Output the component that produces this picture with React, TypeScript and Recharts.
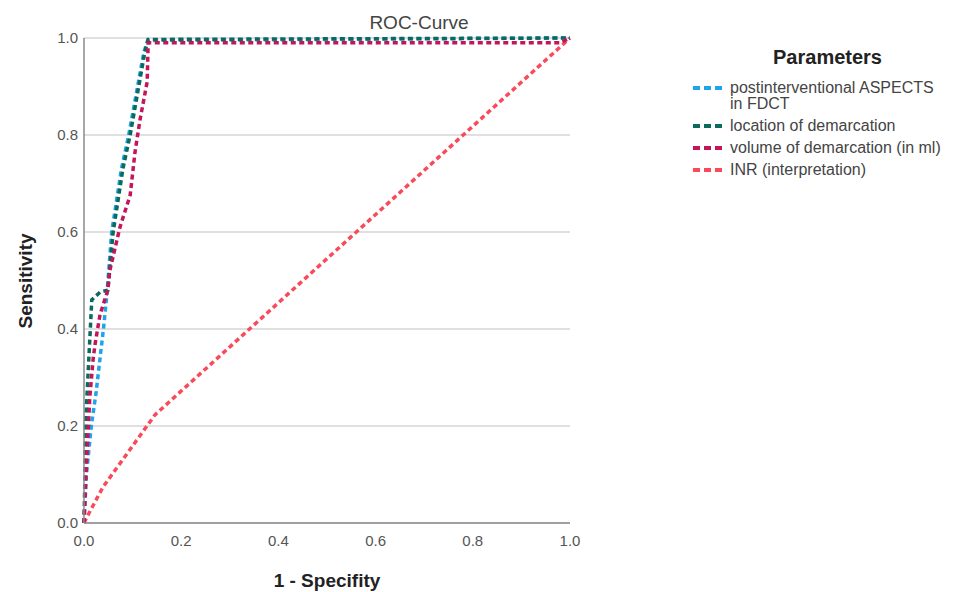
import React from 'react';
import { LineChart, Line, XAxis, YAxis, CartesianGrid } from 'recharts';

// ROC points: x = 1 - specificity, y = sensitivity
const aspectsFpr = [0, 0.005, 0.015, 0.025, 0.033, 0.04, 0.047, 0.057, 0.077, 0.092, 0.123, 0.131, 1];
const aspectsTpr = [0, 0.1, 0.2, 0.27, 0.34, 0.4, 0.47, 0.6, 0.73, 0.8, 0.97, 0.995, 1];

const locationFpr = [0, 0.002, 0.003, 0.008, 0.012, 0.016, 0.033, 0.049, 0.06, 0.08, 0.095, 0.125, 0.132, 1];
const locationTpr = [0, 0.1, 0.2, 0.3, 0.38, 0.46, 0.476, 0.48, 0.6, 0.73, 0.8, 0.97, 0.997, 1];

const volumeFpr = [0, 0.004, 0.008, 0.012, 0.019, 0.023, 0.033, 0.049, 0.053, 0.074, 0.095, 0.105, 0.115, 0.13, 0.132, 0.98, 1];
const volumeTpr = [0, 0.1, 0.18, 0.26, 0.34, 0.37, 0.43, 0.48, 0.52, 0.61, 0.676, 0.765, 0.83, 0.91, 0.99, 0.99, 1];

const inrFpr = [0, 0.008, 0.039, 0.146, 1];
const inrTpr = [0, 0.016, 0.074, 0.223, 1];

const ticks = [0, 0.2, 0.4, 0.6, 0.8, 1];

const toPoints = (xs: number[], ys: number[]) => xs.map((x, i) => ({ x, y: ys[i] }));

const series = [
  { name: 'INR (interpretation)', color: '#fa4a5a', data: toPoints(inrFpr, inrTpr) },
  { name: 'postinterventional ASPECTS in FDCT', color: '#1fa3ec', data: toPoints(aspectsFpr, aspectsTpr) },
  { name: 'location of demarcation', color: '#0b6a5c', data: toPoints(locationFpr, locationTpr) },
  { name: 'volume of demarcation (in ml)', color: '#c4145a', data: toPoints(volumeFpr, volumeTpr) },
];

const legendOrder = [1, 2, 3, 0];

const FONT = '"Liberation Sans", Arial, sans-serif';

const LegendBox = () => (
  <div style={{ position: 'absolute', left: 692, top: 46, width: 265, fontFamily: FONT }}>
    <div style={{ fontWeight: 'bold', fontSize: 20, lineHeight: '22px', color: '#222', textAlign: 'center', marginBottom: 12, paddingLeft: 6 }}>
      Parameters
    </div>
    {legendOrder.map(i => {
      const s = series[i];
      return (
        <div key={s.name} style={{ display: 'flex', alignItems: 'flex-start', marginBottom: 6 }}>
          <svg width={32} height={16} style={{ flexShrink: 0 }}>
            <line x1={1} y1={8} x2={31} y2={8} stroke={s.color} strokeWidth={4} strokeDasharray="7 4" />
          </svg>
          <span style={{ fontSize: 16, color: '#444', lineHeight: '16px', marginLeft: 6, width: 228, whiteSpace: 'nowrap' }}>
            {s.name === 'postinterventional ASPECTS in FDCT' ? (
              <>postinterventional ASPECTS<br />in FDCT</>
            ) : s.name}
          </span>
        </div>
      );
    })}
  </div>
);

export default function App() {
  return (
    <div style={{ position: 'absolute', left: 0, top: 0, width: 957, height: 592, background: '#fff', fontFamily: FONT }}>
      <LineChart width={957} height={592} margin={{ top: 38, right: 387, left: 0, bottom: 0 }}>
        <CartesianGrid vertical={false} stroke="#d6d6d6" strokeWidth={1.5} />
        <XAxis
          type="number"
          dataKey="x"
          domain={[0, 1]}
          ticks={ticks}
          tickFormatter={(v: number) => v.toFixed(1)}
          height={69}
          tickLine={false}
          tickSize={0}
          tickMargin={12}
          axisLine={{ stroke: '#8a8a8a', strokeWidth: 1.5 }}
          tick={{ fill: '#555', fontSize: 15, fontFamily: FONT }}
          allowDuplicatedCategory={false}
          label={{ value: '1 - Specifity', position: 'insideBottom', offset: 5, fill: '#222', fontSize: 19, fontWeight: 'bold', fontFamily: FONT }}
        />
        <YAxis
          type="number"
          dataKey="y"
          domain={[0, 1]}
          ticks={ticks}
          tickFormatter={(v: number) => v.toFixed(1)}
          width={84}
          tickLine={false}
          tickSize={0}
          tickMargin={6}
          axisLine={{ stroke: '#8a8a8a', strokeWidth: 1.5 }}
          tick={{ fill: '#555', fontSize: 15, fontFamily: FONT }}
          label={{
            content: () => (
              <text x={27} y={281} transform="rotate(-90 27 281)" textAnchor="middle" dominantBaseline="middle"
                fill="#222" fontSize={19} fontWeight="bold" fontFamily={FONT}>
                Sensitivity
              </text>
            ),
          }}
        />
        {series.map(s => (
          <Line
            key={s.name}
            data={s.data}
            dataKey="y"
            name={s.name}
            type="linear"
            stroke={s.color}
            strokeWidth={3.5}
            strokeDasharray="5 3.5"
            dot={false}
            activeDot={false}
            isAnimationActive={false}
          />
        ))}
        <text x={419} y={29} textAnchor="middle" fill="#444" fontSize={19} fontFamily={FONT}>
          ROC-Curve
        </text>
      </LineChart>
      <LegendBox />
    </div>
  );
}
